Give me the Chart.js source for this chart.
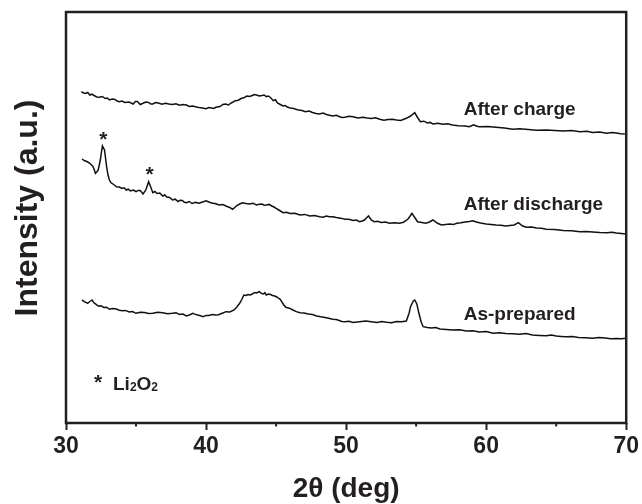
<!DOCTYPE html>
<html>
<head>
<meta charset="utf-8">
<script src="https://cdn.jsdelivr.net/npm/chart.js@4.4.1/dist/chart.umd.min.js"></script>
<style>
  html, body { margin: 0; padding: 0; background: #fff; }
  #wrap { width: 642px; height: 504px; }
</style>
</head>
<body>
<div id="wrap"><canvas id="xrd" width="642" height="504"></canvas></div>
<script>
// 2-theta (deg) and intensity (a.u., offset traces)
const chargeX = [31.1, 31.25, 31.4, 31.55, 31.7, 31.85, 32.0, 32.2, 32.4, 32.6, 32.8, 32.95, 33.1, 33.3, 33.5, 33.65, 33.8, 34.0, 34.2, 34.5, 34.8, 34.95, 35.1, 35.3, 35.5, 35.7, 35.9, 36.05, 36.2, 36.4, 36.6, 36.85, 37.1, 37.35, 37.6, 37.85, 38.1, 38.35, 38.6, 38.8, 39.05, 39.3, 39.5, 39.75, 40.0, 40.2, 40.4, 40.55, 40.7, 41.0, 41.2, 41.4, 41.6, 41.8, 42.1, 42.3, 42.5, 42.7, 42.9, 43.1, 43.3, 43.45, 43.6, 43.8, 44.0, 44.15, 44.3, 44.45, 44.6, 44.8, 44.95, 45.1, 45.3, 45.5, 45.65, 45.8, 46.0, 46.2, 46.4, 46.6, 46.85, 47.1, 47.35, 47.6, 47.85, 48.1, 48.35, 48.6, 48.8, 49.05, 49.3, 49.5, 49.7, 49.9, 50.2, 50.5, 50.85, 51.2, 51.5, 51.8, 52.1, 52.4, 52.7, 53.0, 53.3, 53.6, 53.9, 54.3, 54.6, 54.9, 55.1, 55.3, 55.55, 55.8, 56.0, 56.2, 56.55, 56.9, 57.25, 57.6, 58.0, 58.5, 58.8, 59.1, 59.3, 59.5, 60.1, 60.7, 61.3, 61.9, 62.4, 63.0, 63.6, 64.3, 64.9, 65.5, 66.1, 66.7, 67.2, 67.6, 68.1, 68.6, 69.0, 69.3, 69.6, 69.9];
const chargeY = [331.3, 330, 329.5, 330.5, 328, 328.8, 327.5, 326, 325.7, 326.5, 324.5, 325, 323, 324, 323.5, 322, 321.3, 322, 320.5, 321, 319, 321.5, 321.5, 318.5, 319.7, 321, 320.5, 319, 319, 320.5, 320, 318.8, 319.7, 319, 318.5, 319.2, 317.7, 318.5, 318, 316.5, 317, 316, 315.5, 315, 314.3, 315.5, 315, 314.5, 315.7, 316.5, 318.5, 319, 318, 320, 322.3, 322.8, 324.5, 325.2, 327, 326.5, 327.5, 328.5, 328, 327, 327.5, 328, 326.3, 327, 325.5, 322.3, 323.2, 320, 318.5, 317, 317.5, 316, 315, 314.7, 313.8, 313, 312.5, 311.3, 312, 310.5, 309.5, 309, 310, 308.5, 307.8, 307, 307.8, 306.5, 305.5, 305.7, 306.8, 306.2, 305, 305.7, 305, 304.5, 305.3, 303.7, 302.8, 303.5, 303.8, 303, 302.5, 304.7, 307, 310.3, 305.5, 301.3, 301.8, 300, 300.6, 299, 299.8, 298.7, 299.2, 298, 297.3, 297, 296.2, 298.2, 297, 296.3, 296.5, 295.7, 295, 293.7, 294.3, 293.5, 292.8, 293, 292.6, 292, 292.4, 291.3, 291.7, 290.5, 290.9, 289.7, 290.6, 290, 289.3, 289];

const dischargeX = [31.14, 31.3, 31.4, 31.55, 31.7, 31.8, 31.9, 32.0, 32.1, 32.2, 32.3, 32.45, 32.6, 32.75, 32.9, 33.0, 33.1, 33.2, 33.35, 33.5, 33.6, 33.8, 34.0, 34.15, 34.3, 34.45, 34.6, 34.8, 35.0, 35.15, 35.3, 35.5, 35.7, 35.9, 36.05, 36.2, 36.35, 36.5, 36.7, 36.9, 37.05, 37.2, 37.4, 37.6, 37.8, 38.0, 38.15, 38.3, 38.45, 38.6, 38.8, 39.0, 39.25, 39.5, 39.75, 40.0, 40.2, 40.4, 40.7, 40.95, 41.2, 41.5, 41.7, 41.9, 42.05, 42.2, 42.4, 42.6, 42.85, 43.1, 43.35, 43.6, 43.8, 44.0, 44.15, 44.3, 44.5, 44.7, 44.85, 45.0, 45.25, 45.5, 45.75, 46.0, 46.35, 46.7, 47.05, 47.4, 47.75, 48.1, 48.35, 48.6, 48.8, 49.05, 49.3, 49.5, 49.7, 49.9, 50.2, 50.5, 50.75, 50.95, 51.15, 51.3, 51.45, 51.6, 51.7, 51.8, 52.0, 52.25, 52.5, 52.8, 53.1, 53.45, 53.8, 54.1, 54.4, 54.55, 54.7, 54.9, 55.1, 55.4, 55.7, 55.95, 56.2, 56.5, 56.8, 57.1, 57.4, 57.65, 57.9, 58.2, 58.5, 58.8, 59.05, 59.3, 59.6, 60.0, 60.35, 60.7, 61.05, 61.4, 61.7, 62.0, 62.3, 62.6, 62.9, 63.25, 63.6, 63.95, 64.3, 64.9, 65.5, 66.1, 66.7, 67.15, 67.6, 68.1, 68.6, 69.0, 69.3, 69.65, 70.0];
const dischargeY = [264, 262.5, 262, 261, 259.7, 258.2, 257, 254, 249.7, 251, 253, 263, 277, 273, 256.3, 248, 243, 240.5, 239, 237.5, 236.3, 236, 234.5, 235.2, 233, 233.8, 232, 233, 231.3, 232.6, 232.5, 229, 233, 241.3, 236, 230.3, 231.5, 229.5, 229.9, 227, 228, 226, 225.5, 223, 223.8, 221.5, 222.8, 222.5, 220.8, 220.3, 221.5, 219.5, 220.6, 219.7, 221, 222.3, 221, 220, 219.3, 218, 218.5, 216.5, 215.5, 213.7, 215.5, 217.5, 219, 220.3, 219.5, 219, 219.8, 218, 218.8, 219, 217.8, 218, 218.6, 217, 216, 214.7, 212.5, 210.3, 210.8, 209.5, 209.8, 208, 208.6, 207, 207.4, 206.3, 205.8, 207, 206.2, 206.3, 205.4, 205, 204.6, 203.7, 203.8, 202.5, 202.9, 201.3, 202, 203, 205, 207, 205, 203, 201.3, 201.8, 200.5, 200.9, 199.7, 200.3, 199.7, 200.8, 203.7, 206.5, 209.7, 205.5, 201.3, 200.6, 199.7, 201, 203, 200, 198, 198.6, 199, 198.4, 199.7, 200.2, 201, 201.5, 202.3, 201, 200, 199, 198.6, 198, 197.7, 197, 197.6, 198, 200.3, 197, 195.7, 196, 195, 194.8, 193.7, 193.4, 192.5, 192.2, 191.3, 191.6, 191, 190.4, 190.3, 190.7, 190, 189.6, 189];

const preparedX = [31.14, 31.25, 31.35, 31.45, 31.55, 31.7, 31.86, 31.95, 32.05, 32.15, 32.3, 32.5, 32.7, 32.9, 33.1, 33.35, 33.6, 33.8, 34.05, 34.25, 34.5, 34.75, 35.0, 35.3, 35.6, 35.9, 36.2, 36.55, 36.9, 37.25, 37.6, 37.85, 38.1, 38.35, 38.6, 38.8, 39.05, 39.2, 39.4, 39.6, 39.8, 40.0, 40.2, 40.45, 40.7, 40.9, 41.1, 41.25, 41.4, 41.7, 42.0, 42.2, 42.4, 42.55, 42.7, 42.85, 43.0, 43.15, 43.3, 43.45, 43.6, 43.8, 43.95, 44.1, 44.2, 44.3, 44.45, 44.6, 44.75, 44.9, 45.05, 45.2, 45.3, 45.4, 45.55, 45.7, 45.95, 46.2, 46.45, 46.7, 47.0, 47.3, 47.6, 47.9, 48.2, 48.5, 48.75, 49.05, 49.3, 49.5, 49.7, 49.9, 50.2, 50.5, 50.95, 51.4, 51.8, 52.2, 52.55, 52.9, 53.25, 53.6, 53.95, 54.3, 54.5, 54.6, 54.8, 54.9, 55.05, 55.2, 55.35, 55.5, 55.8, 56.1, 56.4, 56.7, 57.15, 57.6, 58.1, 58.6, 59.05, 59.5, 60.0, 60.5, 60.95, 61.4, 61.9, 62.4, 62.85, 63.3, 63.8, 64.3, 64.65, 65.0, 65.35, 65.7, 66.15, 66.6, 67.1, 67.6, 68.05, 68.5, 68.9, 69.3, 69.65, 70.0];
const preparedY = [123, 122, 121, 120.4, 119.7, 121.5, 123, 121, 119.5, 118.6, 117, 117.2, 115.5, 115.8, 113.7, 114.4, 114, 112.8, 112.3, 112.6, 111, 111.5, 109.7, 110.8, 110.5, 109.5, 109.7, 110.8, 110.2, 109.2, 109.7, 110.3, 108.5, 108.9, 107, 108, 109.7, 108.9, 108, 107.2, 106.3, 107.6, 107.5, 108.4, 108, 108.3, 109.5, 110.2, 111.3, 111, 113, 116, 119.7, 123.5, 128, 127.5, 128.5, 128, 129, 130.5, 130, 131.3, 129.6, 129, 130.4, 128, 129, 128.5, 127.5, 127, 126, 124.5, 123.6, 121.3, 118, 115.7, 114.8, 113, 111.4, 110.3, 110, 109, 108.4, 107, 106.2, 105.5, 104.8, 103.7, 103.4, 102.5, 101.5, 101.3, 101.8, 100.5, 101.2, 102, 101.2, 100.5, 101.4, 100.7, 100.2, 101.5, 101.2, 102, 110, 116.3, 122, 123, 119, 109.7, 101.5, 96.3, 95.6, 95, 95.5, 94, 93.5, 93, 93.3, 92, 92.3, 91, 91.4, 89.7, 90.2, 89.5, 89.2, 88.7, 89.5, 88, 87.6, 87.3, 88, 87, 86.6, 86.3, 86.4, 85.5, 85.3, 84.7, 85.4, 85, 84.3, 84.5, 84.2, 84.7];

const seriesNames = ['After charge', 'After discharge', 'As-prepared'];
const starPeaks = [32.6, 35.9];
const xTicks = [30, 40, 50, 60, 70];
const xMinorTicks = [35, 45, 55, 65];

const INK = '#231f20';
const FONT = '"Liberation Sans", Arial, sans-serif';

function pts(xs, ys) {
  return xs.map((x, i) => ({ x: x, y: ys[i] }));
}

// frame, minor ticks, axis titles and in-plot labels
const decorations = {
  id: 'decorations',
  afterDraw(chart) {
    const { ctx, chartArea: a, scales: { x, y } } = chart;
    ctx.save();
    ctx.strokeStyle = INK;
    ctx.lineWidth = 2.5;
    ctx.strokeRect(a.left, a.top, a.right - a.left, a.bottom - a.top);

    ctx.lineWidth = 2;
    xMinorTicks.forEach(v => {
      const px = x.getPixelForValue(v);
      ctx.beginPath();
      ctx.moveTo(px, a.bottom);
      ctx.lineTo(px, a.bottom + 3.5);
      ctx.stroke();
    });

    ctx.fillStyle = INK;
    ctx.textAlign = 'center';
    ctx.textBaseline = 'middle';
    ctx.font = 'bold 28px ' + FONT;
    ctx.fillText('2\u03b8 (deg)', (a.left + a.right) / 2, 489);

    ctx.save();
    ctx.translate(28, 208);
    ctx.rotate(-Math.PI / 2);
    ctx.font = 'bold 32px ' + FONT;
    ctx.fillText('Intensity (a.u.)', 0, 0);
    ctx.restore();

    // series names
    ctx.font = 'bold 19px ' + FONT;
    ctx.textAlign = 'left';
    const labelX = x.getPixelForValue(58.4);
    const labelY = [313.7, 218, 108.7];
    seriesNames.forEach((name, i) => {
      ctx.fillText(name, labelX, y.getPixelForValue(labelY[i]));
    });

    // Li2O2 peak markers
    ctx.font = 'bold 21px ' + FONT;
    ctx.textAlign = 'center';
    ctx.textBaseline = 'alphabetic';
    const starY = [286.3, 250.7];
    starPeaks.forEach((v, i) => {
      ctx.fillText('*', x.getPixelForValue(v) + 1, y.getPixelForValue(starY[i]) + 9);
    });

    // legend note: * Li2O2
    let cx = 94;
    const base = 390;
    ctx.textAlign = 'left';
    ctx.fillText('*', cx, base - 1);
    cx = 113;
    const parts = [['Li', false], ['2', true], ['O', false], ['2', true]];
    parts.forEach(([t, sub]) => {
      ctx.font = (sub ? 'bold 12px ' : 'bold 19px ') + FONT;
      ctx.fillText(t, cx, sub ? base + 1 : base);
      cx += ctx.measureText(t).width;
    });
    ctx.restore();
  }
};

const lineStyle = {
  borderColor: '#111',
  borderWidth: 1.5,
  pointRadius: 0,
  fill: false,
  tension: 0
};

new Chart(document.getElementById('xrd'), {
  type: 'line',
  data: {
    datasets: [
      Object.assign({ label: seriesNames[0], data: pts(chargeX, chargeY) }, lineStyle),
      Object.assign({ label: seriesNames[1], data: pts(dischargeX, dischargeY) }, lineStyle),
      Object.assign({ label: seriesNames[2], data: pts(preparedX, preparedY) }, lineStyle)
    ]
  },
  options: {
    responsive: false,
    animation: false,
    layout: { padding: { left: 66, right: 15, top: 12, bottom: 0 } },
    plugins: {
      legend: { display: false },
      tooltip: { enabled: false }
    },
    scales: {
      x: {
        type: 'linear',
        min: 30,
        max: 70,
        afterBuildTicks: (scale) => { scale.ticks = xTicks.map(v => ({ value: v })); },
        afterFit: (scale) => { scale.height = 81; },
        border: { display: false },
        grid: {
          display: true,
          drawOnChartArea: false,
          drawTicks: true,
          tickLength: 7,
          tickWidth: 2,
          tickColor: INK
        },
        ticks: {
          color: INK,
          padding: 3,
          maxRotation: 0,
          font: { family: FONT, size: 23, weight: 'bold' }
        }
      },
      y: {
        display: false,
        min: 0,
        max: 411
      }
    }
  },
  plugins: [decorations]
});
</script>
</body>
</html>
